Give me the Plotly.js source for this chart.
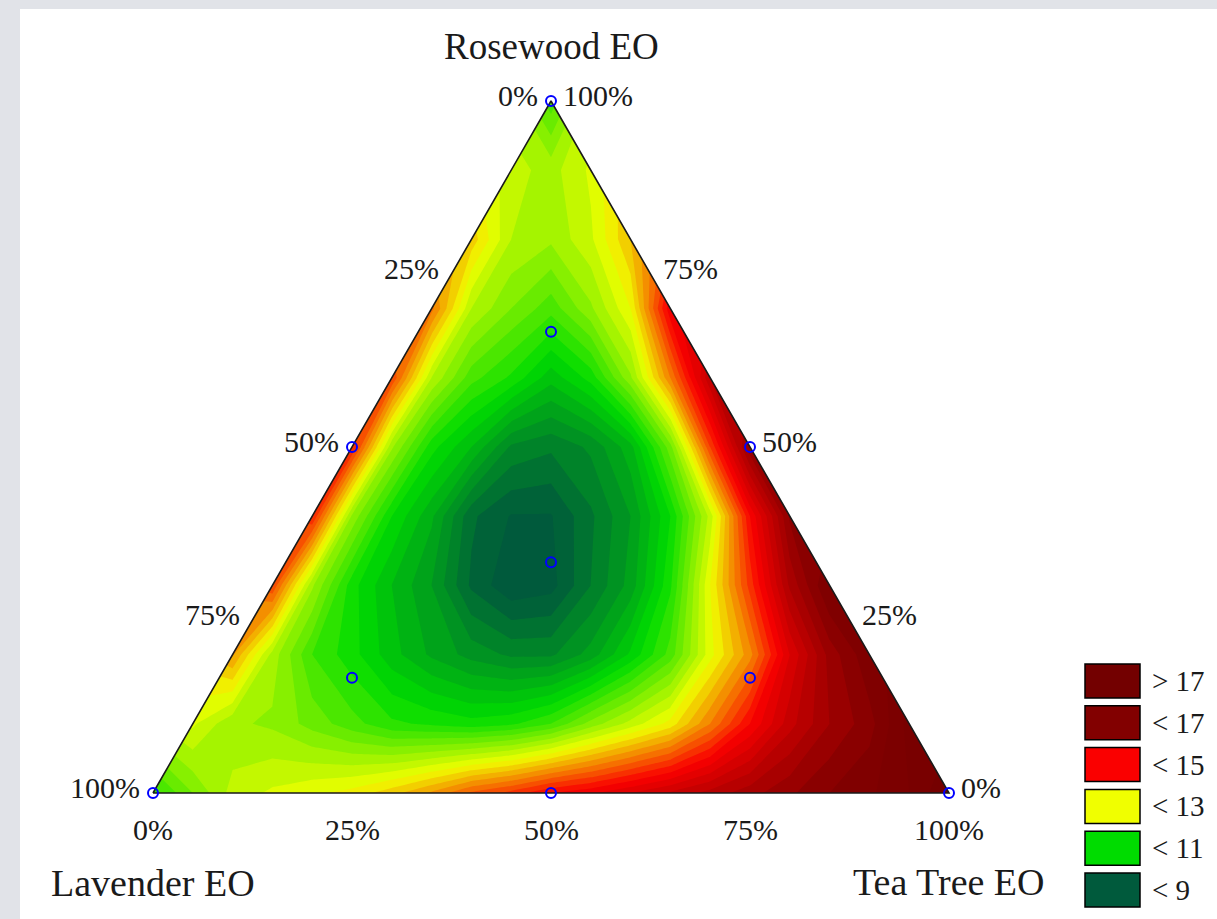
<!DOCTYPE html>
<html>
<head>
<meta charset="utf-8">
<script src="https://cdn.plot.ly/plotly-3.0.1.min.js"></script>
<style>
  html, body { margin: 0; padding: 0; background: #e1e3e8; }
  #chart { position: absolute; left: 20px; top: 9px; width: 1197px; height: 910px; background: #fff; }
</style>
</head>
<body>
<div id="chart"></div>
<script>
// Response surface samples. One row per Rosewood level (100% down to 0%, step 10%);
// along each row Tea Tree runs from 0% in 5% steps, Lavender is the remainder.
const rosewoodLevels = [1.0, 0.9, 0.8, 0.7, 0.6, 0.5, 0.4, 0.3, 0.2, 0.1, 0.0];
const surfaceRows = [
  [11.6],
  [12.6, 12.4, 12.8],
  [13.4, 12.5, 12.3, 12.7, 13.5],
  [14.1, 12.5, 12.0, 11.6, 12.2, 13.0, 15.2],
  [14.5, 12.5, 11.6, 11.2, 10.6, 11.1, 12.2, 14.0, 16.0],
  [14.8, 12.3, 11.1, 10.5, 9.7, 9.55, 9.8, 10.4, 11.9, 14.5, 16.7],
  [14.8, 12.2, 11.0, 10.3, 9.3, 8.98, 8.98, 9.45, 10.0, 11.0, 12.6, 15.0, 16.8],
  [14.5, 12.3, 11.1, 10.5, 10.0, 9.2, 8.8, 8.9, 9.5, 10.1, 11.2, 13.0, 14.6, 16.3, 17.3],
  [13.8, 12.4, 11.5, 11.1, 10.6, 10.2, 9.9, 9.7, 9.7, 10.1, 10.8, 11.6, 12.9, 13.9, 15.5, 16.6, 17.2],
  [12.8, 12.3, 12.2, 11.9, 11.6, 11.3, 11.2, 11.1, 11.2, 11.5, 12.1, 12.6, 13.1, 14.0, 15.0, 15.9, 16.5, 16.9, 17.6],
  [11.4, 12.0, 12.6, 12.8, 12.95, 13.1, 13.4, 13.8, 14.3, 14.6, 15.0, 15.2, 15.5, 15.8, 16.1, 16.4, 16.7, 17.0, 17.2, 17.5, 18.0]
];

// Mixture design runs (Rosewood, Tea Tree; Lavender = 1 - both)
const designRosewood = [1, 0.5, 0.5, 0, 0, 0, 1 / 3, 2 / 3, 1 / 6, 1 / 6];
const designTeaTree  = [0, 0, 0.5, 0, 0.5, 1, 1 / 3, 1 / 6, 1 / 6, 2 / 3];

// Axis ticks
const tickFractions = [0, 0.25, 0.5, 0.75, 1];
const tickLabels = ['0%', '25%', '50%', '75%', '100%'];

// Component names
const nameTop = 'Rosewood EO';
const nameLeft = 'Lavender EO';
const nameRight = 'Tea Tree EO';

// Colour classes
const classLabels = ['> 17', '< 17', '< 15', '< 13', '< 11', '< 9'];
const classColors = ['#730000', '#820000', '#fa0000', '#f0ff00', '#00dc00', '#005a3c'];
const scaleValues = [18, 17, 15, 13, 11, 9];

// ---------------------------------------------------------------------------
// Ternary (Rosewood a, Tea Tree t) -> plane: x = t + a/2, y = a
function toPlane(a, t) { return [t + a / 2, a]; }

// Rectilinear grid: x every 0.05, y every 0.1; nodes outside the triangle stay
// empty and are filled by the contour trace, then hidden by the white cover.
const teaStep = 0.05;
const nCols = Math.round(1 / teaStep) + 1;
const gridX = [], gridY = [], gridZ = [];
for (let j = 0; j < nCols; j++) gridX.push(j * teaStep);
const levelsUp = rosewoodLevels.slice().sort((p, q) => p - q);
levelsUp.forEach(a => {
  gridY.push(a);
  const row = new Array(nCols).fill(null);
  const vals = surfaceRows[rosewoodLevels.indexOf(a)];
  vals.forEach((v, k) => {
    const x = toPlane(a, k * teaStep)[0];
    row[Math.round(x / teaStep)] = v;
  });
  gridZ.push(row);
});

// Contour levels and a piecewise colour scale through the class colours
const levelStart = 7, levelEnd = 19, levelStep = 0.25;
const nLevels = Math.floor((levelEnd - levelStart) / levelStep) + 1;
const zLo = levelStart - levelStep / 2;
const zHi = zLo + nLevels * levelStep;
const ordered = scaleValues.map((v, i) => [v, classColors[i]]).sort((p, q) => p[0] - q[0]);
const colorscale = [[0, ordered[0][1]]];
ordered.forEach(([v, c]) => colorscale.push([(v - zLo) / (zHi - zLo), c]));
colorscale.push([1, ordered[ordered.length - 1][1]]);

const surface = {
  type: 'contour',
  x: gridX, y: gridY, z: gridZ,
  connectgaps: true,
  autocontour: false,
  contours: { start: levelStart, end: levelEnd, size: levelStep, coloring: 'fill', showlines: false },
  line: { width: 0, smoothing: 0 },
  colorscale: colorscale,
  showscale: false,
  hoverinfo: 'skip'
};

// White cover outside the triangle
const V0 = toPlane(0, 0), V1 = toPlane(0, 1), VT = toPlane(1, 0);
const pad = 0.03;
const cover = {
  type: 'scatter', mode: 'none', fill: 'toself', fillcolor: '#ffffff',
  x: [V0[0], VT[0], VT[0], V0[0] - pad, V0[0] - pad, V0[0], null,
      V1[0], VT[0], VT[0], V1[0] + pad, V1[0] + pad, V1[0]],
  y: [V0[1], VT[1], VT[1] + pad, VT[1] + pad, V0[1] - pad, V0[1], null,
      V1[1], VT[1], VT[1] + pad, VT[1] + pad, V1[1] - pad, V1[1]],
  hoverinfo: 'skip'
};

const frame = {
  type: 'scatter', mode: 'lines',
  x: [V0[0], V1[0], VT[0], V0[0]],
  y: [V0[1], V1[1], VT[1], V0[1]],
  line: { color: '#1a1a1a', width: 1.6 },
  hoverinfo: 'skip'
};

const runs = {
  type: 'scatter', mode: 'markers',
  x: designRosewood.map((a, i) => toPlane(a, designTeaTree[i])[0]),
  y: designRosewood.map((a, i) => toPlane(a, designTeaTree[i])[1]),
  marker: { symbol: 'circle-open', size: 10, color: '#0000ff', line: { width: 2, color: '#0000ff' } },
  cliponaxis: false,
  hoverinfo: 'skip'
};

// Labels
const FONT = 'Liberation Serif, Times New Roman, serif';
const TXT = '#1a1a1a';
const annotations = [];
function label(x, y, text, size, xanchor, xshift, yshift) {
  annotations.push({ x, y, xref: 'x', yref: 'y', text, showarrow: false,
    xanchor, yanchor: 'middle', xshift, yshift, font: { family: FONT, size, color: TXT } });
}
tickFractions.forEach((f, i) => {
  // Lavender along the left edge
  const L = toPlane(1 - f, 0);
  label(L[0], L[1], tickLabels[i], 30, 'right', -11, 6);
  // Rosewood along the right edge
  const R = toPlane(f, 1 - f);
  label(R[0], R[1], tickLabels[i], 30, 'left', 10, 6);
  // Tea Tree along the bottom
  const B = toPlane(0, f);
  label(B[0], B[1], tickLabels[i], 30, 'center', 0, -36);
});
label(VT[0], VT[1], nameTop, 37, 'center', 0, 55);
label(V0[0], V0[1], nameLeft, 38, 'center', 0, -90);
label(V1[0], V1[1], nameRight, 38, 'center', 0, -89);

// Class key, bottom right
const W = 1197, H = 910;
const shapes = [];
classLabels.forEach((txt, i) => {
  const top = 655 + i * 41.8, h = 34;
  shapes.push({ type: 'rect', xref: 'paper', yref: 'paper',
    x0: 1065 / W, x1: 1120 / W, y0: 1 - (top + h) / H, y1: 1 - top / H,
    fillcolor: classColors[i], line: { color: '#000', width: 1.5 } });
  annotations.push({ xref: 'paper', yref: 'paper', x: 1130 / W, y: 1 - (top + h / 2) / H,
    text: txt, showarrow: false, xanchor: 'left', yanchor: 'middle',
    font: { family: FONT, size: 29, color: TXT } });
});

const layout = {
  width: W, height: H,
  margin: { l: 0, r: 0, t: 0, b: 0 },
  paper_bgcolor: '#ffffff', plot_bgcolor: '#ffffff',
  showlegend: false,
  xaxis: { range: [-133 / 796, (W - 133) / 796], visible: false, fixedrange: true },
  yaxis: { range: [-126 / 692, (H - 126) / 692], visible: false, fixedrange: true },
  annotations, shapes
};

Plotly.newPlot('chart', [surface, cover, frame, runs], layout, { displayModeBar: false, staticPlot: true });
</script>
</body>
</html>
